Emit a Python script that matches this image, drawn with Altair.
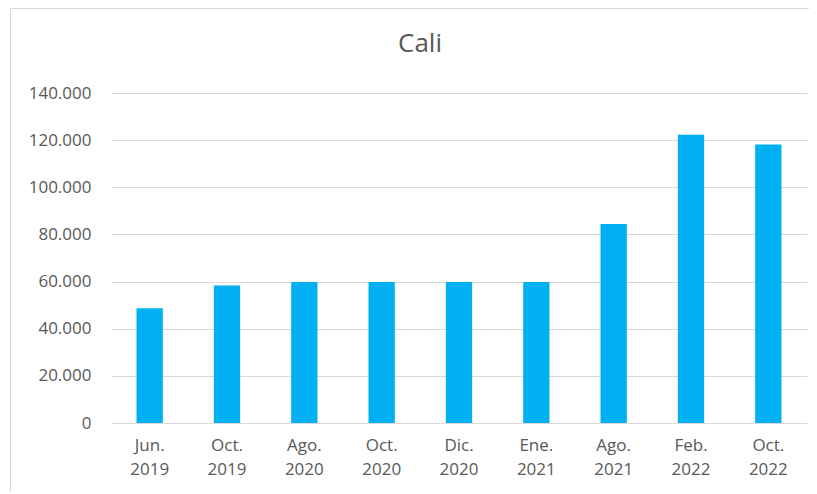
import altair as alt
import pandas as pd

categories = ["Jun. 2019", "Oct. 2019", "Ago. 2020", "Oct. 2020", "Dic. 2020",
              "Ene. 2021", "Ago. 2021", "Feb. 2022", "Oct. 2022"]
values = [48700, 58300, 59800, 59800, 59800, 59800, 84400, 122300, 118100]
y_ticks = [0, 20000, 40000, 60000, 80000, 100000, 120000, 140000]

df = pd.DataFrame({"periodo": categories, "valor": values})

W, H = 696, 330
FONT = "Open Sans"
GRAY = "#595959"

bars = alt.Chart(df).mark_bar(color="#00B0F0").encode(
    x=alt.X("periodo:N", sort=categories,
            scale=alt.Scale(paddingInner=0.66, paddingOuter=0.33),
            axis=alt.Axis(title=None, labelAngle=0, ticks=False, grid=False,
                          domain=True, domainColor="#d9d9d9", domainWidth=1,
                          labelExpr="split(datum.label, ' ')",
                          labelLineHeight=24, labelPadding=14,
                          labelFontSize=17, labelFont=FONT, labelColor=GRAY)),
    y=alt.Y("valor:Q", scale=alt.Scale(domain=[0, 140000]),
            axis=alt.Axis(title=None, values=y_ticks, ticks=False, domain=False,
                          grid=True, gridColor="#d9d9d9", gridWidth=1,
                          labelExpr="replace(format(datum.value, ','), ',', '.')",
                          labelPadding=20, labelFontSize=17, labelFont=FONT,
                          labelColor=GRAY)),
)

frame_top = alt.Chart(alt.Data(values=[{}])).mark_rule(
    color="#d9d9d9", strokeWidth=1
).encode(x=alt.value(-100.5), x2=alt.value(W + 30), y=alt.value(-84.5))

frame_left = alt.Chart(alt.Data(values=[{}])).mark_rule(
    color="#d9d9d9", strokeWidth=1
).encode(x=alt.value(-100.5), y=alt.value(-84.5), y2=alt.value(H + 90))

chart = alt.layer(frame_top, frame_left, bars).properties(
    width=W, height=H,
    title=alt.TitleParams("Cali", fontSize=26, color=GRAY, font=FONT,
                          fontWeight="normal", anchor="middle", frame="group",
                          baseline="alphabetic", offset=0, dy=69.5, dx=-39),
    autosize=alt.AutoSizeParams(type="none"),
    padding={"left": 103, "top": 85, "right": 2, "bottom": 69},
).configure(
    background="white",
    view=alt.ViewConfig(stroke="transparent", strokeWidth=0),
)

chart.save("out.html", embed_options={"renderer": "svg", "actions": False})
